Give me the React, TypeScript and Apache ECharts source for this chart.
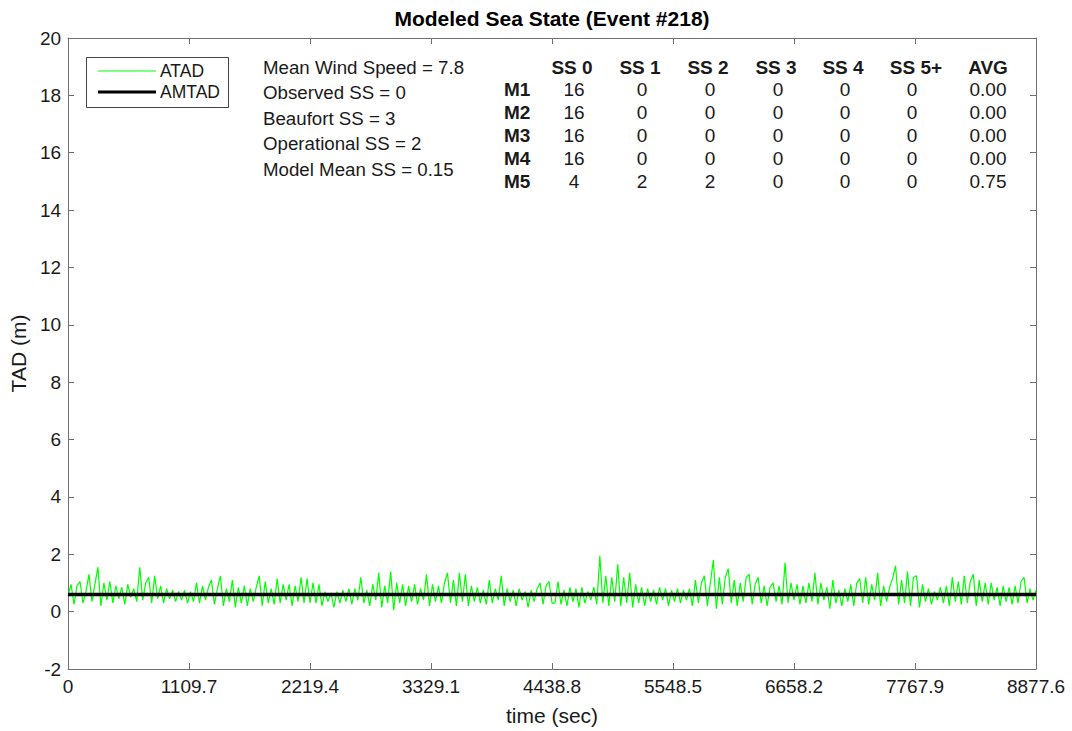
import React, { useEffect, useRef } from "react";
import * as echarts from "echarts";

const T_MAX = 8877.6;
const T_STEP = 1109.7;
const Y_MIN = -2;
const Y_MAX = 20;
const Y_STEP = 2;

// ATAD samples (m), read left to right off the reference trace
const atadSeg1 = [0.55,0.95,0.25,0.9,1.05,0.3,0.7,1.3,0.35,0.95,1.55,0.2,1.0,0.4,1.05,0.3,0.9,0.45,0.85,0.25,0.95,0.5,0.8,0.35,1.55,0.4,1.0,1.2,0.3,1.25,0.45,0.9,0.3,0.8,0.45,0.75,0.35,0.7,0.4,0.75,0.3,0.7,0.35,1.0,0.3,0.9,0.4,0.85,1.1,0.25,0.8,1.25,0.2,0.8,0.35,1.1,0.15,0.85,0.3,0.9,0.2,0.8,0.35,0.85,1.25,0.2,1.05,0.3,0.8,0.25,1.15,0.3,0.95,0.4,0.95,0.2,0.9,0.35,1.2,0.3,1.15,0.3];
const atadSeg2 = [1.0,0.3,0.95,0.2,0.7,0.35,0.65,0.15,0.7,0.3,0.75,0.35,0.8,0.25,0.8,0.4,1.2,0.3,0.75,0.2,0.95,0.4,1.35,0.15,0.9,0.3,1.4,0.05,1.0,0.3,0.95,0.2,0.9,0.35,0.95,0.25,0.8,0.4,1.3,0.2,0.95,0.35,0.9,0.3,1.0,1.35,0.3,1.1,0.2,1.35,0.35,1.3,0.2,0.9,0.35,0.85,0.3,0.75,0.25,1.1,0.3,0.8,0.4,1.25,0.2,0.8,0.35,0.75,0.2,0.8,0.4,0.7,0.15,0.75,0.35,0.8,1.0,0.25,0.9,1.05,0.3];
const atadSeg3 = [0.3,1.05,0.25,0.75,0.2,0.85,0.35,0.8,0.15,0.85,0.3,0.7,0.4,0.85,0.25,1.95,0.3,1.25,0.2,1.2,0.35,1.65,0.2,1.2,0.3,1.35,0.15,0.95,0.3,0.85,0.2,0.8,0.35,0.75,0.25,0.85,0.4,0.8,0.2,0.75,0.35,0.8,0.3,0.75,0.4,0.8,0.2,1.1,0.3,1.0,1.25,0.2,1.0,1.8,0.1,1.2,0.25,1.2,1.5,0.3,1.1,0.2,1.0,0.35,1.2,1.3,0.25,0.95,1.2,0.3,0.9,0.2,0.85,1.0,0.35,0.9,0.25,1.7,0.3,1.0,0.4];
const atadSeg4 = [0.95,0.25,0.9,0.3,1.0,0.35,1.35,0.25,1.0,0.4,0.85,0.1,1.1,0.3,0.75,0.2,0.8,0.35,0.95,0.2,1.0,1.15,0.3,1.2,0.25,0.95,0.4,1.35,0.2,0.9,0.35,0.85,1.15,1.6,0.25,1.1,0.3,1.4,0.2,1.2,1.25,0.15,0.95,0.35,0.8,0.25,0.7,0.4,0.85,0.3,0.9,0.2,1.2,0.35,1.05,0.25,1.25,0.3,1.05,1.3,0.2,1.1,0.35,1.0,0.25,1.0,0.4,0.85,0.2,0.9,0.35,0.85,0.25,0.9,0.3,1.05,1.2,0.3,0.8,0.4,0.75];

const AMTAD_VALUE = 0.6;

const infoLines = [
  "Mean Wind Speed = 7.8",
  "Observed SS = 0",
  "Beaufort SS = 3",
  "Operational SS = 2",
  "Model Mean SS = 0.15",
];

const tableHeaders = ["SS 0", "SS 1", "SS 2", "SS 3", "SS 4", "SS 5+", "AVG"];
const modelNames = ["M1", "M2", "M3", "M4", "M5"];
const modelCounts = [
  [16, 0, 0, 0, 0, 0],
  [16, 0, 0, 0, 0, 0],
  [16, 0, 0, 0, 0, 0],
  [16, 0, 0, 0, 0, 0],
  [4, 2, 2, 0, 0, 0],
];
const modelAvg = ["0.00", "0.00", "0.00", "0.00", "0.75"];

const FONT = "'Liberation Sans', Arial, Helvetica, sans-serif";
const TXT = "#1a1a1a";

export default function App() {
  const ref = useRef<HTMLDivElement>(null);

  useEffect(() => {
    if (!ref.current) return;
    const chart = echarts.init(ref.current, null, { renderer: "svg" });

    const atad = [...atadSeg1, ...atadSeg2, ...atadSeg3, ...atadSeg4];
    const dt = T_MAX / (atad.length - 1);
    const atadData = atad.map((v, i) => [i * dt, v]);
    const amtadData = [
      [0, AMTAD_VALUE],
      [T_MAX, AMTAD_VALUE],
    ];

    const fmtX = (v: number) => (Math.abs(v) < 1e-6 ? "0" : v.toFixed(1));

    const axisLine = { show: true, onZero: false, lineStyle: { color: "#707070", width: 1 } };
    const axisTick = { show: true, inside: true, length: 6, lineStyle: { color: "#707070" } };

    const graphics: any[] = [];
    graphics.push({
      type: "text",
      x: 552,
      y: 18,
      style: {
        text: "Modeled Sea State (Event #218)",
        font: `bold 21px ${FONT}`,
        fill: "#000",
        align: "center",
        verticalAlign: "middle",
      },
    });
    // legend box
    graphics.push({
      type: "rect",
      shape: { x: 86.5, y: 57.5, width: 142, height: 50 },
      style: { fill: "#fff", stroke: "#444", lineWidth: 1 },
      z: 10,
    });
    graphics.push({
      type: "line",
      shape: { x1: 98, y1: 71, x2: 156, y2: 71 },
      style: { stroke: "#00ff00", lineWidth: 1.2 },
      z: 11,
    });
    graphics.push({
      type: "line",
      shape: { x1: 98, y1: 92, x2: 156, y2: 92 },
      style: { stroke: "#000", lineWidth: 3 },
      z: 11,
    });
    ["ATAD", "AMTAD"].forEach((t, i) => {
      graphics.push({
        type: "text",
        x: 160,
        y: 71 + i * 21,
        style: { text: t, font: `17.5px ${FONT}`, fill: TXT, verticalAlign: "middle" },
        z: 11,
      });
    });
    infoLines.forEach((t, i) => {
      graphics.push({
        type: "text",
        x: 263,
        y: 67 + i * 25.5,
        style: { text: t, font: `18.7px ${FONT}`, fill: TXT, verticalAlign: "middle" },
      });
    });
    const colX = [572, 640, 708, 776, 843, 916, 988];
    const rowY0 = 67;
    const rowDY = 22.8;
    tableHeaders.forEach((h, c) => {
      graphics.push({
        type: "text",
        x: colX[c],
        y: rowY0,
        style: { text: h, font: `bold 19px ${FONT}`, fill: TXT, align: "center", verticalAlign: "middle" },
      });
    });
    modelNames.forEach((m, r) => {
      const y = rowY0 + (r + 1) * rowDY;
      graphics.push({
        type: "text",
        x: 504,
        y,
        style: { text: m, font: `bold 19px ${FONT}`, fill: TXT, verticalAlign: "middle" },
      });
      const vals = [...modelCounts[r].map(String), modelAvg[r]];
      vals.forEach((v, c) => {
        graphics.push({
          type: "text",
          x: colX[c] + (c === 6 ? 0 : c === 5 ? -4 : 2),
          y,
          style: { text: v, font: `19px ${FONT}`, fill: TXT, align: "center", verticalAlign: "middle" },
        });
      });
    });

    chart.setOption({
      animation: false,
      backgroundColor: "#fff",
      textStyle: { fontFamily: FONT },
      grid: { left: 68, right: 36, top: 38, bottom: 59, containLabel: false },
      xAxis: [
        {
          type: "value",
          position: "bottom",
          min: 0,
          max: T_MAX,
          interval: T_STEP,
          name: "time (sec)",
          nameLocation: "middle",
          nameGap: 36,
          nameTextStyle: { fontSize: 21, color: TXT, fontFamily: FONT },
          axisLine,
          axisTick,
          splitLine: { show: false },
          axisLabel: {
            formatter: fmtX,
            fontSize: 19,
            color: TXT,
            fontFamily: FONT,
            margin: 8,
            showMaxLabel: true,
            showMinLabel: true,
          },
        },
        {
          type: "value",
          position: "top",
          min: 0,
          max: T_MAX,
          interval: T_STEP,
          axisLine,
          axisTick,
          axisLabel: { show: false },
          splitLine: { show: false },
        },
      ],
      yAxis: [
        {
          type: "value",
          position: "left",
          min: Y_MIN,
          max: Y_MAX,
          interval: Y_STEP,
          name: "TAD (m)",
          nameLocation: "middle",
          nameGap: 36,
          nameTextStyle: { fontSize: 21, color: TXT, fontFamily: FONT },
          axisLine,
          axisTick,
          splitLine: { show: false },
          axisLabel: { fontSize: 19, color: TXT, fontFamily: FONT, margin: 7 },
        },
        {
          type: "value",
          position: "right",
          min: Y_MIN,
          max: Y_MAX,
          interval: Y_STEP,
          axisLine,
          axisTick,
          axisLabel: { show: false },
          splitLine: { show: false },
        },
      ],
      series: [
        {
          name: "ATAD",
          type: "line",
          xAxisIndex: 0,
          yAxisIndex: 0,
          data: atadData,
          symbol: "none",
          lineStyle: { color: "#00ff00", width: 1.2 },
          itemStyle: { color: "#00ff00" },
          z: 2,
        },
        {
          name: "AMTAD",
          type: "line",
          xAxisIndex: 0,
          yAxisIndex: 0,
          data: amtadData,
          symbol: "none",
          lineStyle: { color: "#000", width: 3.5 },
          itemStyle: { color: "#000" },
          z: 3,
        },
      ],
      graphic: graphics,
    });

    return () => chart.dispose();
  }, []);

  return (
    <div
      ref={ref}
      style={{ position: "fixed", left: 0, top: 0, width: 1072, height: 731, background: "#fff" }}
    />
  );
}
